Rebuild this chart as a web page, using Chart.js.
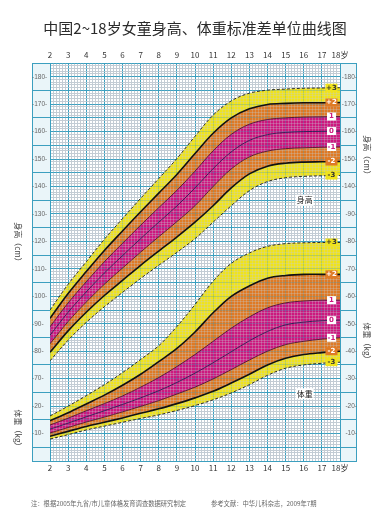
<!DOCTYPE html>
<html><head><meta charset="utf-8">
<script src="https://cdn.jsdelivr.net/npm/chart.js@4.4.1/dist/chart.umd.min.js"></script>
<style>html,body{margin:0;padding:0;background:#fff;}#wrap{width:376px;height:526px;}</style>
</head><body><div id="wrap"><canvas id="c" width="376" height="526"></canvas></div>
<script>
// ---- data ----
const ages = [2,3,4,5,6,7,8,9,10,11,12,13,14,15,16,17,18];
const ageTickLabels = ['2','3','4','5','6','7','8','9','10','11','12','13','14','15','16','17','18岁'];
// Height (cm), girls, SD curves
const hM3 = [76.5,84.0,90.5,96.2,101.4,106.5,111.3,116.0,121.0,127.0,133.0,138.5,141.8,143.2,143.7,143.9,144.0];
const hM2 = [79.6,87.4,94.2,100.3,105.8,111.3,116.5,121.6,127.0,133.0,139.5,144.6,147.4,148.5,148.9,149.0,149.1];
const hM1 = [82.7,90.8,97.9,104.4,110.3,116.1,121.7,127.2,133.0,140.0,146.4,150.8,152.9,153.8,154.1,154.3,154.4];
const h0  = [85.8,94.2,101.6,108.5,114.8,121.0,127.0,132.9,139.5,146.5,152.6,156.8,158.9,159.7,160.0,160.1,160.2];
const hP1 = [88.9,97.6,105.3,112.6,119.3,125.9,132.3,138.6,145.6,153.0,159.0,162.7,164.4,165.0,165.3,165.4,165.5];
const hP2 = [92.0,101.0,109.0,116.7,123.8,130.8,137.6,144.4,152.0,159.4,165.0,168.3,169.9,170.3,170.5,170.5,170.6];
const hP3 = [95.0,104.4,112.6,120.8,128.3,135.7,142.9,150.2,158.3,166.0,171.2,174.0,175.1,175.5,175.8,175.9,176.0];
// Weight (kg), girls, SD curves
const wM3 = [8.0,9.6,11.3,12.7,14.1,15.5,16.8,18.4,20.2,22.3,24.8,27.8,31.2,33.8,35.0,35.6,36.0];
const wM2 = [9.0,10.8,12.6,14.1,15.7,17.4,19.0,20.9,23.0,25.4,28.4,31.6,35.0,37.4,38.8,39.5,40.0];
const wM1 = [10.2,12.2,14.2,16.0,17.9,19.9,22.0,24.4,26.9,29.9,33.3,36.8,40.0,42.4,43.6,44.4,44.9];
const w0  = [11.6,13.8,16.1,18.3,20.6,23.0,25.6,28.6,32.0,35.8,39.8,43.8,47.2,49.6,50.6,51.1,51.3];
const wP1 = [13.1,15.6,18.3,20.9,23.7,26.9,30.4,34.4,38.8,43.6,48.4,52.5,55.8,57.6,58.3,58.6,58.6];
const wP2 = [14.7,17.6,20.8,24.0,27.6,31.6,36.2,41.0,47.0,54.0,60.0,63.8,66.6,67.6,68.0,68.0,68.0];
const wP3 = [16.4,20.0,23.8,27.8,32.2,37.0,42.0,49.0,57.0,65.5,72.0,75.8,78.2,79.2,79.5,79.6,79.6];
const curveLabels = ['-3','-2','-1','0','1','+2','+3'];
// axis labels
const leftHeightTicks = [70,80,90,100,110,120,130,140,150,160,170,180];
const leftWeightTicks = [10,20];
const rightHeightTicks = [140,150,160,170,180];
const rightWeightTicks = [10,20,30,40,50,60,70,80,90];

// ---- style ----
const TEAL = '#3c9fbf', FINE = '#c3ccd4';
const YEL = '#f0e31c', ORA = '#df7a25', MAG = '#cd187e';
const isInt = v => Math.abs(v - Math.round(v)) < 1e-6;
const W_OFF = 40; // 0 kg sits at the 40 cm line

function pts(arr){ return ages.map((a,i)=>({x:a,y:arr[i]})); }
function mk(label, arr, axis, kind, fill, bg){
  const st = {
    d3:{c:'#2a2a2a',w:1,dash:[3,2]},
    d2:{c:'#111',w:1.6,dash:[]},
    d1:{c:'#4d0f2c',w:0.9,dash:[]},
    d0:{c:'#2b1650',w:0.9,dash:[]}
  }[kind];
  return {label, data:pts(arr), yAxisID:axis, borderColor:st.c, borderWidth:st.w,
    borderDash:st.dash, pointRadius:0, fill:fill, backgroundColor:bg||'rgba(0,0,0,0)',
    tension:0.35};
}
const datasets = [
  mk('身高 -3', hM3,'yL','d3',false),
  mk('身高 -2', hM2,'yL','d2','-1',YEL),
  mk('身高 -1', hM1,'yL','d1','-1',ORA),
  mk('身高 0',  h0, 'yL','d0','-1',MAG),
  mk('身高 1',  hP1,'yL','d1','-1',MAG),
  mk('身高 +2', hP2,'yL','d2','-1',ORA),
  mk('身高 +3', hP3,'yL','d3','-1',YEL),
  mk('体重 -3', wM3,'yW','d3',false),
  mk('体重 -2', wM2,'yW','d2','-1',YEL),
  mk('体重 -1', wM1,'yW','d1','-1',ORA),
  mk('体重 0',  w0, 'yW','d0','-1',MAG),
  mk('体重 1',  wP1,'yW','d1','-1',MAG),
  mk('体重 +2', wP2,'yW','d2','-1',ORA),
  mk('体重 +3', wP3,'yW','d3','-1',YEL)
];

const CJK = "'Noto Sans CJK SC','Noto Sans',sans-serif";

const decor = {
  id:'decor',
  beforeDraw(chart){
    const {ctx, chartArea:a} = chart;
    ctx.save();
    ctx.fillStyle='#fff'; ctx.fillRect(0,0,chart.width,chart.height);
    ctx.fillStyle='#eaf5f9';
    ctx.fillRect(32,a.top,a.left-32,a.bottom-a.top);
    ctx.fillRect(a.right,a.top,357-a.right,a.bottom-a.top);
    ctx.strokeStyle=TEAL; ctx.lineWidth=1;
    ctx.strokeRect(32.5,a.top+0.5,a.left-32,a.bottom-a.top);
    ctx.strokeRect(a.right+0.5,a.top+0.5,357-a.right-1,a.bottom-a.top);
    ctx.restore();
  },
  beforeDatasetsDraw(chart){
    const {ctx, chartArea:a} = chart;
    ctx.save();
    ctx.beginPath(); ctx.rect(a.left,a.top,a.right-a.left,a.bottom-a.top); ctx.clip();
    ctx.globalAlpha=0.3;
    chart.scales.x.drawGrid(a);
    chart.scales.yL.drawGrid(a);
    ctx.restore();
  },
  afterDatasetsDraw(chart){
    const {ctx} = chart;
    const xs = chart.scales.x, yL = chart.scales.yL, yW = chart.scales.yW;
    const n = ages.length-1;
    const lx = xs.getPixelForValue(17.53);
    const groups = [
      {s:yL, arrs:[hM3,hM2,hM1,h0,hP1,hP2,hP3]},
      {s:yW, arrs:[wM3,wM2,wM1,w0,wP1,wP2,wP3]}
    ];
    ctx.save();
    ctx.textAlign='center'; ctx.textBaseline='middle';
    groups.forEach(g=>{
      g.arrs.forEach((arr,k)=>{
        const y = g.s.getPixelForValue(arr[n]);
        const t = curveLabels[k];
        ctx.font = "bold 7px 'DejaVu Sans',sans-serif";
        if (k===0||k===6){
          ctx.fillStyle=YEL; ctx.fillRect(lx-6,y-4,12,8);
          ctx.fillStyle='#333'; ctx.fillText(t,lx,y);
        } else if (k===1||k===5){
          ctx.fillStyle=ORA; ctx.fillRect(lx-6,y-4,12,8);
          ctx.fillStyle='#fff'; ctx.fillText(t,lx,y);
        } else {
          ctx.fillStyle='#fff'; ctx.fillRect(lx-4.5,y-4,9,8);
          ctx.fillStyle=MAG; ctx.fillText(t,lx,y);
        }
      });
    });
    ctx.font = "8px "+CJK;
    const bx = xs.getPixelForValue(16.05);
    [['身高', yL.getPixelForValue(135)], ['体重', yW.getPixelForValue(24.5)]].forEach(([t,y])=>{
      ctx.fillStyle='#fff'; ctx.fillRect(bx-9,y-5.5,18,11);
      ctx.fillStyle='#222'; ctx.fillText(t,bx,y);
    });
    ctx.restore();
  },
  afterDraw(chart){
    const {ctx} = chart;
    ctx.save();
    ctx.fillStyle='#2b2b2b'; ctx.textAlign='center'; ctx.textBaseline='middle';
    ctx.font = "15px "+CJK;
    ctx.fillText('中国2~18岁女童身高、体重标准差单位曲线图', 195, 28);
    ctx.font = "6.3px "+CJK; ctx.fillStyle='#666'; ctx.textAlign='left';
    ctx.fillText('注：根据2005年九省/市儿童体格发育调查数据研究制定', 31, 504);
    ctx.fillText('参考文献：中华儿科杂志，2009年7期', 211, 504);
    ctx.font = "8px "+CJK; ctx.fillStyle='#444'; ctx.textAlign='center';
    [[18,244,'身高（cm）'],[18,430,'体重（kg）'],[367,157,'身高（cm）'],[367,343,'体重（kg）']].forEach(([x,y,t])=>{
      ctx.save(); ctx.translate(x,y); ctx.rotate(Math.PI/2); ctx.fillText(t,0,0); ctx.restore();
    });
    ctx.restore();
  }
};

function xLabel(v){
  if(!isInt(v)) return '';
  const i = ages.indexOf(Math.round(v));
  return i>=0 ? ageTickLabels[i] : '';
}

new Chart(document.getElementById('c'), {
  type:'line',
  data:{datasets},
  options:{
    responsive:false, animation:false, devicePixelRatio:1,
    layout:{padding:{left:32,right:19,top:49,bottom:51}},
    plugins:{legend:{display:false}, tooltip:{enabled:false}, title:{display:false},
      filler:{drawTime:'beforeDatasetsDraw'}},
    scales:{
      x:{type:'linear', position:'bottom', min:2, max:18,
        ticks:{stepSize:1/6, autoSkip:false, maxRotation:0, minRotation:0, callback:xLabel,
          font:{size:8, family:CJK}, color:'#333', padding:2},
        grid:{color:c=>isInt(c.tick.value)?TEAL:FINE, lineWidth:1, drawTicks:false},
        border:{color:TEAL, width:1},
        afterFit:s=>{s.height=14;}},
      xT:{type:'linear', position:'top', min:2, max:18,
        ticks:{stepSize:1, autoSkip:false, maxRotation:0, minRotation:0, callback:xLabel,
          font:{size:8, family:CJK}, color:'#333', padding:3},
        grid:{display:false, drawTicks:false}, border:{display:false},
        afterFit:s=>{s.height=14;}},
      yL:{type:'linear', position:'left', min:40, max:185,
        ticks:{stepSize:1, autoSkip:false, crossAlign:'far', padding:0,
          font:{size:6.5, family:"'Liberation Sans',sans-serif"}, color:'#666',
          callback:v=>{
            if(leftHeightTicks.includes(v)) return '-'+v+'-';
            if(leftWeightTicks.includes(v-W_OFF)) return '-'+(v-W_OFF)+'-';
            return '';
          }},
        grid:{color:c=>(c.tick.value%5===0)?TEAL:FINE, lineWidth:1, tickLength:18,
          tickColor:c=>(c.tick.value%10===5)?TEAL:'rgba(0,0,0,0)'},
        border:{color:TEAL, width:1},
        afterFit:s=>{s.width=18;}},
      yR:{type:'linear', position:'right', min:40, max:185,
        ticks:{stepSize:5, autoSkip:false, crossAlign:'far', padding:0,
          font:{size:6.5, family:"'Liberation Sans',sans-serif"}, color:'#666',
          callback:v=>{
            if(rightHeightTicks.includes(v)) return '-'+v+'-';
            if(v<=130 && rightWeightTicks.includes(v-W_OFF)) return '-'+(v-W_OFF)+'-';
            return '';
          }},
        grid:{drawOnChartArea:false, tickLength:17,
          tickColor:c=>(c.tick.value%10===5)?TEAL:'rgba(0,0,0,0)'},
        border:{color:TEAL, width:1},
        afterFit:s=>{s.width=17;}},
      yW:{type:'linear', display:false, min:0, max:145}
    }
  },
  plugins:[decor]
});
</script>
</body></html>
